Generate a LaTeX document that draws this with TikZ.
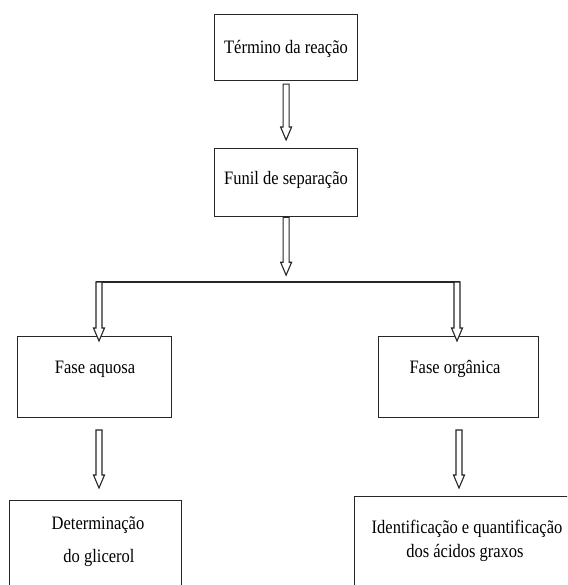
\documentclass[tikz,border=0pt]{standalone}
\usepackage{fontspec}
\usepackage{graphicx}
\setmainfont{Liberation Serif}
\usetikzlibrary{calc}

% text slightly taller than wide, as in the printed chart
\newcommand{\tallt}[1]{\scalebox{1}[1.15]{#1}}

\tikzset{
  stage/.style={draw=black!85, line width=1.2pt, rectangle, inner sep=0pt, anchor=north west},
  caption/.style={anchor=base, inner sep=0pt, font=\fontsize{16.5}{20}\selectfont},
  arrowline/.style={draw=black!85, line width=1.1pt, line join=miter, fill=white},
  branchline/.style={draw=black!85, line width=1.2pt}
}

% hollow downward arrow from #1 to tip #2 (vertical, x taken from #1)
\newcommand{\hollowarrow}[2]{%
  \path[arrowline] let \p1=#1, \p2=#2 in
    (\x1-3pt,\y1) -- (\x1-3pt,\y2+13pt) -- (\x1-5.5pt,\y2+13pt) -- (\x1,\y2)
    -- (\x1+5.5pt,\y2+13pt) -- (\x1+3pt,\y2+13pt) -- (\x1+3pt,\y1) -- cycle;}

\begin{document}
\begin{tikzpicture}[x=1pt,y=-1pt]
  \useasboundingbox (0,0) rectangle (567,585);
  \clip (0,0) rectangle (567,585);

  % boxes
  \node[stage, minimum width=143pt, minimum height=66pt] (b1) at (214,14) {};
  \node[stage, minimum width=143pt, minimum height=68pt] (b2) at (214,148) {};
  \node[stage, minimum width=154pt, minimum height=81pt] (b3) at (17,336) {};
  \node[stage, minimum width=160pt, minimum height=81pt] (b4) at (378,336) {};
  \node[stage, minimum width=172pt, minimum height=100pt] (b5) at (9,500) {};
  \node[stage, minimum width=230pt, minimum height=100pt] (b6) at (354,496) {};

  % captions
  \node[caption] (t1) at (286,54) {\tallt{Término da reação}};
  \node[caption] (t2) at (286,185) {\tallt{Funil de separação}};
  \node[caption] (t3) at (95,373) {\tallt{Fase aquosa}};
  \node[caption] (t4) at (455,373) {\tallt{Fase orgânica}};
  \node[caption] (t5a) at (98,529) {\tallt{Determinação}};
  \node[caption] (t5b) at (99,562) {\tallt{do glicerol}};
  \node[caption] (t6a) at (467,533) {\tallt{Identificação e quantificação}};
  \node[caption] (t6b) at (465,557) {\tallt{dos ácidos graxos}};

  % split line
  \coordinate (jl) at (99,282);
  \coordinate (jr) at (457,282);
  \draw[branchline] ($(jl)+(-3,0)$) -- ($(jr)+(3,0)$);

  % arrows
  \hollowarrow{($(b1.south)+(0,3)$)}{($(b2.north)+(0,-8)$)}
  \hollowarrow{(b2.south)}{($(b2.south)+(0,58)$)}
  \hollowarrow{(jl)}{($(jl)+(0,59)$)}
  \hollowarrow{(jr)}{($(jr)+(0,59)$)}
  \hollowarrow{($(jl)+(0,148)$)}{($(jl)+(0,206)$)}
  \hollowarrow{($(jr)+(2,148)$)}{($(jr)+(2,206)$)}
\end{tikzpicture}
\end{document}
